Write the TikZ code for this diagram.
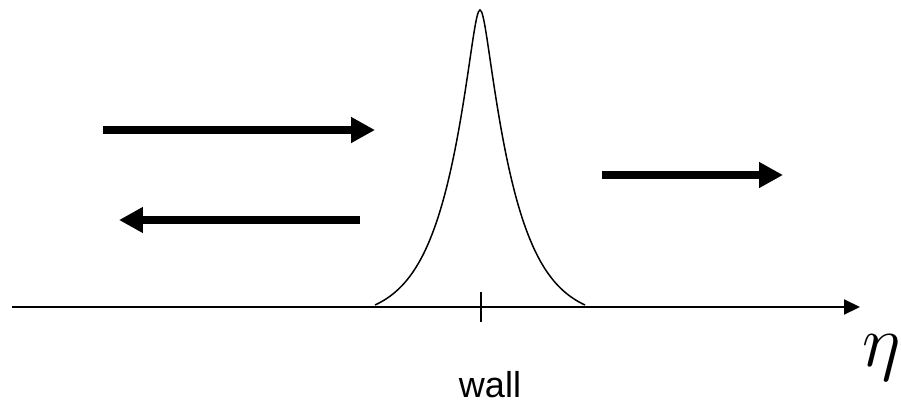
\documentclass[tikz,border=0pt]{standalone}
\usepackage{fix-cm}
\usepackage{fontspec}
\setsansfont{Liberation Sans}
\usetikzlibrary{arrows.meta}
\tikzset{
  flow/.style={
    line width=0.17cm,
    -{Triangle[length=0.48cm,width=0.49cm]}
  },
  axis/.style={
    line width=0.04cm,
    -{Triangle[length=0.32cm,width=0.30cm]}
  },
  profile/.style={
    line width=0.03cm
  },
  every picture/.style = {
    x=0.02cm,
    y=-0.02cm
  }
}

\begin{document}
\begin{tikzpicture}
        \useasboundingbox (0,0) rectangle (901,403);
        % axis and wall position
        \coordinate (ax0) at (12,307);
        \coordinate (ax1) at (860,307);
        \draw[axis] (ax0) -- (ax1);
        \coordinate (wtop) at (481,292);
        \coordinate (wbot) at (481,322);
        \draw[profile] (wtop) -- (wbot);
        % wall profile
        \draw[profile] plot[domain=-105:105, samples=141, smooth]
            ({480+\x}, {305-295*(exp(-(sqrt(\x*\x+36)-6)/33)-0.0495)/0.9505});
        % incoming, reflected and transmitted
        \coordinate (in0) at (103,130);
        \coordinate (in1) at (375,130);
        \coordinate (re0) at (360,220);
        \coordinate (re1) at (119,220);
        \coordinate (tr0) at (602,175);
        \coordinate (tr1) at (783,175);
        \draw[flow] (in0) -- (in1);
        \draw[flow,line width=0.155cm] (re0) -- (re1);
        \draw[flow,line width=0.145cm] (tr0) -- (tr1);
        \node[anchor=base,font=\sffamily\fontsize{20.5}{24}\selectfont] (wall) at (490,397) {wall};
        \node[anchor=base west,inner sep=0pt,font=\fontsize{42}{46}\selectfont] (eta) at (862,366) {$\eta$};
\end{tikzpicture}
\end{document}
